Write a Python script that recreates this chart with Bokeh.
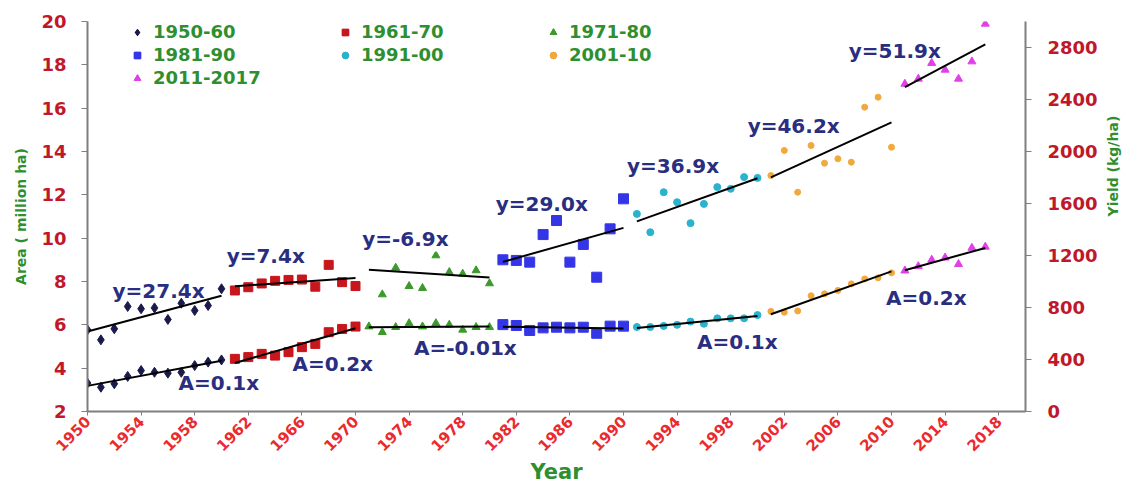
import math
import numpy as np
from bokeh.plotting import figure
from bokeh.models import Range1d, LinearAxis, FixedTicker, Legend, LegendItem, Label
from bokeh.embed import file_html
from bokeh.resources import INLINE

# ---------------- data ----------------
groups = ["1950-60", "1961-70", "1971-80", "1981-90", "1991-00", "2001-10", "2011-2017"]

years_1950_60 = list(range(1950, 1961))
area_1950_60 = [3.31, 3.12, 3.28, 3.62, 3.89, 3.81, 3.77, 3.81, 4.12, 4.28, 4.38]
yield_1950_60 = [628, 551, 636, 808, 790, 797, 708, 833, 777, 815, 944]

years_1961_70 = list(range(1961, 1971))
area_1961_70 = [4.43, 4.51, 4.66, 4.58, 4.74, 4.97, 5.12, 5.66, 5.81, 5.92]
yield_1961_70 = [931, 956, 985, 1005, 1012, 1015, 960, 1128, 995, 965]

years_1971_80 = list(range(1971, 1981))
area_1971_80 = [5.92, 5.66, 5.89, 6.07, 5.92, 6.07, 6.00, 5.77, 5.89, 5.89]
yield_1971_80 = [1290, 900, 1105, 964, 949, 1200, 1072, 1059, 1085, 985]

years_1981_90 = list(range(1981, 1991))
area_1981_90 = [6.01, 5.97, 5.74, 5.86, 5.89, 5.86, 5.89, 5.61, 5.94, 5.94]
yield_1981_90 = [1167, 1162, 1149, 1361, 1469, 1149, 1285, 1033, 1405, 1636]

years_1991_00 = list(range(1991, 2001))
area_1991_00 = [5.90, 5.90, 5.95, 6.00, 6.15, 6.05, 6.30, 6.30, 6.30, 6.45]
yield_1991_00 = [1520, 1379, 1687, 1610, 1449, 1597, 1726, 1713, 1803, 1797]

years_2001_10 = list(range(2001, 2011))
area_2001_10 = [6.62, 6.58, 6.64, 7.34, 7.43, 7.59, 7.89, 8.12, 8.17, 8.40]
yield_2001_10 = [1815, 2008, 1687, 2046, 1910, 1944, 1918, 2341, 2418, 2033]

years_2011_17 = list(range(2011, 2018))
area_2011_17 = [8.50, 8.70, 9.00, 9.10, 8.80, 9.55, 9.60]
yield_2011_17 = [2520, 2559, 2680, 2628, 2559, 2692, 2982]

yield_labels = ["y=27.4x", "y=7.4x", "y=-6.9x", "y=29.0x", "y=36.9x", "y=46.2x", "y=51.9x"]
area_labels = ["A=0.1x", "A=0.2x", "A=-0.01x", None, "A=0.1x", None, "A=0.2x"]

x_ticks = list(range(1950, 2019, 4))
area_ticks = list(range(2, 21, 2))
yield_ticks = list(range(0, 2801, 400))

# ---------------- styles ----------------
all_years = [years_1950_60, years_1961_70, years_1971_80, years_1981_90,
             years_1991_00, years_2001_10, years_2011_17]
all_area = [area_1950_60, area_1961_70, area_1971_80, area_1981_90,
            area_1991_00, area_2001_10, area_2011_17]
all_yield = [yield_1950_60, yield_1961_70, yield_1971_80, yield_1981_90,
             yield_1991_00, yield_2001_10, yield_2011_17]

colors = ["#1b1b4b", "#c8161d", "#3c9a2c", "#3535e8", "#2ab3cc", "#f2a93b", "#e040e8"]
markers = ["diamond", "square", "triangle", "square", "circle", "circle", "triangle"]
sizes = [10, 9, 8, 10, 7, 6, 8]

# label placements (data coords: year, left-axis value)
yield_label_pos = [(1955.3, 7.54), (1963.3, 9.2), (1970.5, 9.94), (1983.9, 11.58),
                   (1993.7, 13.35), (2002.7, 15.2), (2010.25, 18.66)]
area_label_pos = [(1959.8, 3.32), (1968.3, 4.17), (1978.2, 4.93), None,
                  (1998.5, 5.23), None, (2012.6, 7.24)]

FONT = "DejaVu Sans"
NAVY = "#2a2e80"
GREEN = "#2f8f2f"
RED_Y = "#c0182a"
RED_X = "#ea2a2e"
AXIS_GRAY = "#7f7f7f"

p = figure(width=1134, height=486, x_range=Range1d(1950, 2020), y_range=Range1d(2, 20),
           output_backend="svg", toolbar_location=None,
           min_border_left=87, min_border_right=109, min_border_top=21, min_border_bottom=75)
p.extra_y_ranges = {"yield": Range1d(0, 3000)}
p.xgrid.visible = False
p.ygrid.visible = False
p.outline_line_color = None
p.background_fill_color = "white"
p.border_fill_color = "white"

items = []
for i, g in enumerate(groups):
    yrs = all_years[i]
    ra = p.scatter(yrs, all_area[i], marker=markers[i], size=sizes[i], color=colors[i])
    ry = p.scatter(yrs, all_yield[i], marker=markers[i], size=sizes[i], color=colors[i],
                   y_range_name="yield")
    items.append(LegendItem(label=g, renderers=[ra, ry]))

# trend lines (least squares per period)
for i in range(len(groups)):
    yrs = np.array(all_years[i], dtype=float)
    xs = [yrs[0], yrs[-1]]
    ca = np.polyfit(yrs, all_area[i], 1)
    cy = np.polyfit(yrs, all_yield[i], 1)
    p.line(xs, list(np.polyval(ca, xs)), color="black", line_width=2)
    p.line(xs, list(np.polyval(cy, xs)), color="black", line_width=2, y_range_name="yield")

# equation labels
for i, t in enumerate(yield_labels):
    x, y = yield_label_pos[i]
    kw = {}
    align = "center"
    if i == 2:
        kw = dict(background_fill_color="white")
        align = "left"
    p.add_layout(Label(x=x, y=y, text=t, text_font=FONT, text_font_style="bold",
                       text_font_size="20px", text_color=NAVY, text_align=align,
                       text_baseline="middle", **kw))
for i, t in enumerate(area_labels):
    if t is None:
        continue
    x, y = area_label_pos[i]
    p.add_layout(Label(x=x, y=y, text=t, text_font=FONT, text_font_style="bold",
                       text_font_size="20px", text_color=NAVY, text_align="center",
                       text_baseline="middle"))

# axes
xa = p.xaxis[0]
xa.ticker = FixedTicker(ticks=x_ticks)
xa.major_label_orientation = math.pi / 4
xa.axis_label = "Year"
xa.axis_label_text_font = FONT
xa.axis_label_text_font_style = "bold"
xa.axis_label_text_font_size = "21px"
xa.axis_label_text_color = GREEN
xa.axis_label_standoff = 0
xa.major_label_text_font = FONT
xa.major_label_text_font_style = "bold"
xa.major_label_text_font_size = "15px"
xa.major_label_text_color = RED_X
xa.major_label_standoff = 3
xa.axis_line_color = AXIS_GRAY
xa.axis_line_width = 2
xa.major_tick_line_color = AXIS_GRAY
xa.major_tick_out = 4
xa.major_tick_in = 0
xa.minor_tick_line_color = None

ya = p.yaxis[0]
ya.ticker = FixedTicker(ticks=area_ticks)
ya.axis_label = "Area ( million ha)"
ya.axis_label_text_font = FONT
ya.axis_label_text_font_style = "bold"
ya.axis_label_text_font_size = "14px"
ya.axis_label_text_color = GREEN
ya.axis_label_standoff = 9
ya.major_label_text_font = FONT
ya.major_label_text_font_style = "bold"
ya.major_label_text_font_size = "18px"
ya.major_label_text_color = RED_Y
ya.major_label_standoff = 15
ya.axis_line_color = AXIS_GRAY
ya.axis_line_width = 2
ya.major_tick_line_color = AXIS_GRAY
ya.major_tick_out = 6
ya.major_tick_in = 0
ya.minor_tick_line_color = None

ra_axis = LinearAxis(y_range_name="yield", ticker=FixedTicker(ticks=yield_ticks),
                     axis_label="Yield (kg/ha)")
ra_axis.axis_label_orientation = math.pi / 2
ra_axis.axis_label_text_font = FONT
ra_axis.axis_label_text_font_style = "bold"
ra_axis.axis_label_text_font_size = "14px"
ra_axis.axis_label_text_color = GREEN
ra_axis.axis_label_standoff = 12
ra_axis.major_label_text_font = FONT
ra_axis.major_label_text_font_style = "bold"
ra_axis.major_label_text_font_size = "18px"
ra_axis.major_label_text_color = RED_Y
ra_axis.major_label_standoff = 16
ra_axis.axis_line_color = AXIS_GRAY
ra_axis.axis_line_width = 2
ra_axis.major_tick_line_color = AXIS_GRAY
ra_axis.major_tick_out = 6
ra_axis.major_tick_in = 0
ra_axis.minor_tick_line_color = None
p.add_layout(ra_axis, "right")

legend = Legend(items=items, ncols=3, orientation="horizontal", location=(42, 323),
                padding=0, spacing=2, glyph_width=16, glyph_height=20, label_height=20,
                label_width=182, label_standoff=8, border_line_color=None,
                background_fill_alpha=0, label_text_font=FONT, label_text_font_style="bold",
                label_text_font_size="18px", label_text_color=GREEN)
p.add_layout(legend)

open("out.html", "w").write(file_html(p, INLINE))
